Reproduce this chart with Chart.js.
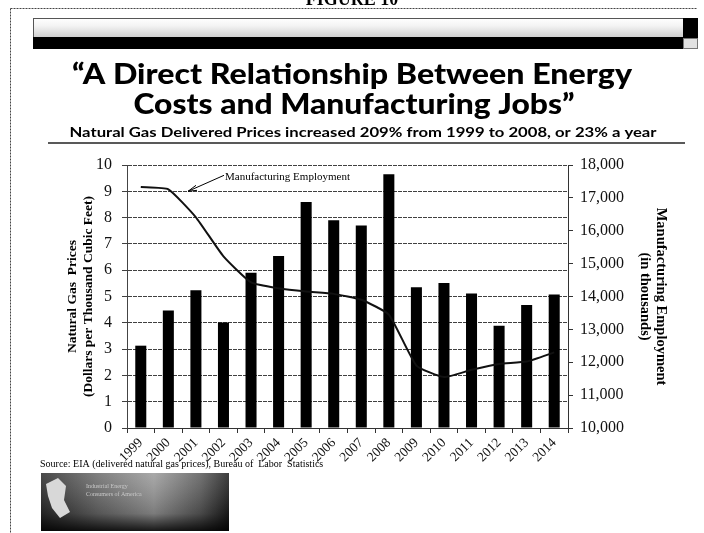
<!DOCTYPE html>
<html>
<head>
<meta charset="utf-8">
<script src="https://cdn.jsdelivr.net/npm/chart.js@4"></script>
<style>
  body { margin: 0; background: #fff; }
  #wrap { width: 704px; height: 533px; }
</style>
</head>
<body>
<div id="wrap"><canvas id="chart" width="704" height="533"></canvas></div>
<script>
// Years on the x axis
const years = ['1999', '2000', '2001', '2002', '2003', '2004', '2005', '2006',
               '2007', '2008', '2009', '2010', '2011', '2012', '2013', '2014'];

// Natural gas delivered price, dollars per thousand cubic feet (bars, left axis)
const gasPrices = [3.13, 4.47, 5.24, 4.01, 5.90, 6.54, 8.59, 7.90,
                   7.70, 9.65, 5.35, 5.51, 5.11, 3.89, 4.68, 5.08];

// Manufacturing employment, thousands (line, right axis)
const employment = [17330, 17260, 16410, 15220, 14430, 14250, 14150, 14080,
                    13900, 13450, 11900, 11550, 11770, 11950, 12020, 12300];

// Axis ranges / ticks
const priceTicks = { min: 0, max: 10, step: 1 };
const jobTicks = { min: 10000, max: 18000, step: 1000 };

const serif = "'Liberation Serif', 'DejaVu Serif', serif";
const headFont = "Lato, 'DejaVu Sans', sans-serif";

// draw text squeezed/stretched horizontally to a given width
function drawStretched(ctx, text, font, cx, baseline, width) {
    ctx.save();
    ctx.font = font;
    const w = ctx.measureText(text).width;
    ctx.translate(cx, baseline);
    ctx.scale(width / w, 1);
    ctx.textAlign = 'center';
    ctx.textBaseline = 'alphabetic';
    ctx.fillStyle = '#000';
    ctx.fillText(text, 0, 0);
    ctx.restore();
}

// page decoration: background, banner, border
const pageBackground = {
    id: 'pageBackground',
    beforeDraw(chart) {
        const ctx = chart.ctx;
        ctx.save();
        ctx.fillStyle = '#fff';
        ctx.fillRect(0, 0, chart.width, chart.height);

        // dashed frame (left and top)
        ctx.strokeStyle = '#444';
        ctx.lineWidth = 1;
        ctx.setLineDash([2, 1]);
        ctx.beginPath();
        ctx.moveTo(10.5, 8.5);
        ctx.lineTo(697, 8.5);
        ctx.moveTo(10.5, 8.5);
        ctx.lineTo(10.5, 533);
        ctx.stroke();
        ctx.setLineDash([]);

        // FIGURE label cut off by the top edge
        ctx.fillStyle = '#000';
        ctx.font = 'bold 18px ' + serif;
        ctx.textAlign = 'center';
        ctx.textBaseline = 'alphabetic';
        ctx.fillText('FIGURE 10', 352, 5);

        // banner strip
        const g = ctx.createLinearGradient(0, 18, 0, 37);
        g.addColorStop(0, '#fff');
        g.addColorStop(0.4, '#f4f4f4');
        g.addColorStop(1, '#cfcfcf');
        ctx.fillStyle = g;
        ctx.fillRect(33, 18, 650, 19);
        ctx.strokeStyle = '#555';
        ctx.strokeRect(33.5, 18.5, 650, 19);
        ctx.fillStyle = '#000';
        ctx.fillRect(33, 37, 650, 12);
        ctx.fillRect(683, 18, 15, 20);
        ctx.fillStyle = '#e2e2e2';
        ctx.fillRect(683, 38, 15, 11);
        ctx.strokeStyle = '#777';
        ctx.strokeRect(683.5, 38.5, 14, 10);
        ctx.restore();
    }
};

// titles, annotation arrow, source line and logo
const pageText = {
    id: 'pageText',
    afterDraw(chart) {
        const ctx = chart.ctx;
        const area = chart.chartArea;
        const y = chart.scales.y;

        drawStretched(ctx, '\u201CA Direct Relationship Between Energy', '900 28px ' + headFont, 352, 84, 560);
        drawStretched(ctx, 'Costs and Manufacturing Jobs\u201D', '900 28px ' + headFont, 354, 114, 441);
        drawStretched(ctx, 'Natural Gas Delivered Prices increased 209% from 1999 to 2008, or 23% a year',
            'bold 14px ' + headFont, 363, 137, 587);

        ctx.save();
        ctx.strokeStyle = '#222';
        ctx.lineWidth = 1.5;
        ctx.beginPath();
        ctx.moveTo(48, 143);
        ctx.lineTo(685, 143);
        ctx.stroke();

        // label + arrow pointing at the employment line
        const tipX = area.left + 61;
        const tipY = y.getPixelForValue(9);
        ctx.fillStyle = '#000';
        ctx.font = '11px ' + serif;
        ctx.textAlign = 'left';
        ctx.textBaseline = 'alphabetic';
        ctx.fillText('Manufacturing Employment', tipX + 37, tipY - 11);
        ctx.strokeStyle = '#000';
        ctx.lineWidth = 1;
        ctx.beginPath();
        ctx.moveTo(tipX + 36, tipY - 16);
        ctx.lineTo(tipX, tipY);
        ctx.moveTo(tipX, tipY);
        ctx.lineTo(tipX + 8, tipY - 6);
        ctx.moveTo(tipX, tipY);
        ctx.lineTo(tipX + 9, tipY - 1);
        ctx.stroke();

        // source note
        ctx.font = '10px ' + serif;
        ctx.fillText('Source: EIA (delivered natural gas prices), Bureau of  Labor  Statistics', 40, 467);

        // logo strip
        const lg = ctx.createLinearGradient(41, 0, 229, 0);
        lg.addColorStop(0, '#2a2a2a');
        lg.addColorStop(0.3, '#6a6a6a');
        lg.addColorStop(0.6, '#9a9a9a');
        lg.addColorStop(0.85, '#5a5a5a');
        lg.addColorStop(1, '#1c1c1c');
        ctx.fillStyle = lg;
        ctx.fillRect(41, 473, 188, 58);
        const shade = ctx.createLinearGradient(0, 473, 0, 531);
        shade.addColorStop(0, 'rgba(255,255,255,0.15)');
        shade.addColorStop(0.7, 'rgba(0,0,0,0.2)');
        shade.addColorStop(1, 'rgba(0,0,0,0.85)');
        ctx.fillStyle = shade;
        ctx.fillRect(41, 473, 188, 58);
        // map silhouette
        ctx.fillStyle = '#d8d8d8';
        ctx.beginPath();
        ctx.moveTo(46, 484);
        ctx.lineTo(58, 478);
        ctx.lineTo(66, 486);
        ctx.lineTo(64, 500);
        ctx.lineTo(70, 512);
        ctx.lineTo(60, 518);
        ctx.lineTo(52, 508);
        ctx.lineTo(48, 496);
        ctx.closePath();
        ctx.fill();
        ctx.fillStyle = '#c8c8c8';
        ctx.font = '6px ' + serif;
        ctx.fillText('Industrial Energy', 86, 488);
        ctx.fillText('Consumers of America', 86, 496);
        ctx.restore();
    }
};

new Chart(document.getElementById('chart'), {
    type: 'bar',
    data: {
        labels: years,
        datasets: [
            {
                type: 'line',
                label: 'Manufacturing Employment',
                data: employment,
                yAxisID: 'y1',
                borderColor: '#111',
                borderWidth: 2,
                pointRadius: 0,
                tension: 0.15,
                order: 0
            },
            {
                label: 'Natural Gas Prices',
                data: gasPrices,
                yAxisID: 'y',
                backgroundColor: '#000',
                barPercentage: 0.4,
                categoryPercentage: 1.0,
                order: 1
            }
        ]
    },
    options: {
        responsive: false,
        animation: false,
        layout: { padding: { top: 165, left: 0, right: 0, bottom: 0 } },
        plugins: {
            legend: { display: false },
            tooltip: { enabled: false }
        },
        scales: {
            x: {
                afterFit(scale) { scale.height = 105; },
                grid: {
                    offset: true,
                    drawOnChartArea: false,
                    drawTicks: true,
                    tickLength: 5,
                    color: '#333'
                },
                border: { display: true, color: '#333' },
                ticks: {
                    autoSkip: false,
                    minRotation: 45,
                    maxRotation: 45,
                    padding: 2,
                    color: '#111',
                    font: { family: serif, size: 13.5 }
                }
            },
            y: {
                position: 'left',
                min: priceTicks.min,
                max: priceTicks.max,
                afterFit(scale) { scale.width = 127; },
                grid: { color: 'rgba(0,0,0,0.75)', tickLength: 5 },
                border: { display: true, color: '#444', dash: [4, 1] },
                ticks: {
                    stepSize: priceTicks.step,
                    padding: 10,
                    color: '#111',
                    font: { family: serif, size: 16 }
                },
                title: {
                    display: true,
                    text: ['Natural Gas  Prices', '(Dollars per Thousand Cubic Feet)'],
                    color: '#000',
                    font: { family: serif, size: 13.5, weight: 'bold', lineHeight: 1.2 },
                    padding: { top: 64, bottom: 0 }
                }
            },
            y1: {
                position: 'right',
                min: jobTicks.min,
                max: jobTicks.max,
                afterFit(scale) { scale.width = 136; },
                grid: { drawOnChartArea: false, tickLength: 5, color: '#333' },
                border: { display: true, color: '#333' },
                ticks: {
                    stepSize: jobTicks.step,
                    padding: 7,
                    color: '#111',
                    font: { family: serif, size: 16 },
                    callback: (v) => v.toLocaleString('en-US')
                },
                title: {
                    display: true,
                    text: ['Manufacturing Employment', '(in thousands)'],
                    color: '#000',
                    font: { family: serif, size: 14.5, weight: 'bold', lineHeight: 1.05 },
                    padding: { top: 36, bottom: 0 }
                }
            }
        }
    },
    plugins: [pageBackground, pageText]
});
</script>
</body>
</html>
